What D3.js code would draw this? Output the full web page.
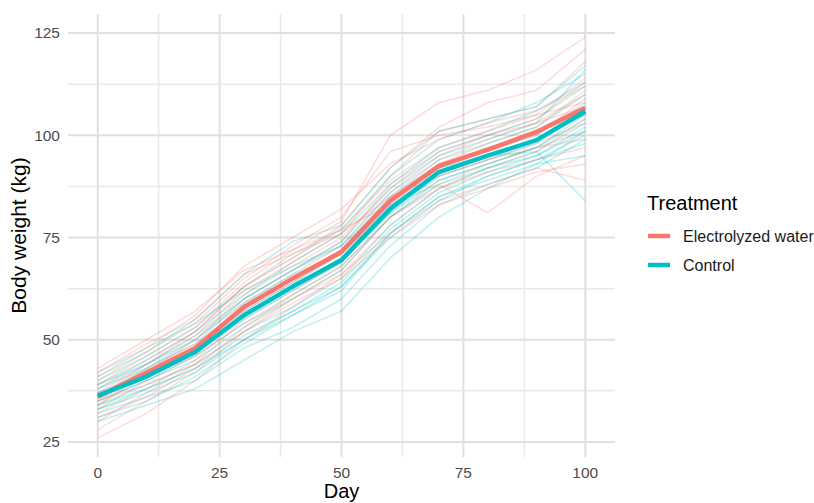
<!DOCTYPE html>
<html><head><meta charset="utf-8">
<script src="https://cdn.jsdelivr.net/npm/d3@7"></script>
<style>body{margin:0;background:#fff}svg{display:block;font-family:"Liberation Sans",Arial,sans-serif}</style>
</head><body><svg id="c" width="814" height="503"></svg>
<script>
const days = [0,10,20,30,40,50,60,70,80,90,100];
const groups = ["Electrolyzed water","Control"];
const colors = ["#F8766D","#00BFC4"];
const xTicks = [0,25,50,75,100];
const yTicks = [25,50,75,100,125];
const meanElectrolyzed = [36,42,48,58,65,71.5,84,92.5,96.5,100.8,106.7];
const meanControl = [36.3,41,47,56,63,69.5,82,91,95,98.8,105.8];
const animalsElectrolyzed = [
 [26,32,40,50,58,66,78,87,92,96,104],
 [28,35,42,52,60,67,80,88,93,97,101],
 [30,37,44,55,62,69,82,90,94,98,103],
 [32,38,45,56,63,70,83,91,95,99,105],
 [33,40,46,57,64,71,84,92,97,100,109],
 [34,41,47,58,65,72,85,93,98,102,111],
 [35,42,48,59,66,73,86,94,99,103,110],
 [36,43,49,60,67,74,88,96,100,104,113],
 [37,44,51,62,69,76,90,101,104,107,118],
 [38,45,52,63,70,78,92,102,108,111,121],
 [39,46,53,64,72,79,100,108,111,116,124],
 [40,47,54,65,73,80,96,100,102,105,108],
 [41,48,56,68,75,82,93,99,103,106,112],
 [42,49,55,66,71,76,85,90,94,97,99],
 [43,50,57,67,72,77,83,88,81,90,95],
 [37,41,46,54,60,66,76,84,88,92,89],
 [35,39,44,52,59,65,75,83,87,91,93],
 [31,36,43,53,61,68,80,87,91,94,97],
 [34,42,50,61,68,75,87,95,100,103,107],
 [36,44,52,63,70,77,89,97,101,105,114]
];
const animalsControl = [
 [30,34,38,45,52,57,70,80,87,93,101],
 [32,36,40,48,53,60,73,83,88,92,99],
 [33,38,43,50,56,63,76,85,90,94,100],
 [34,39,44,52,58,65,78,87,92,95,102],
 [35,40,45,53,60,67,80,89,93,97,104],
 [36,41,47,55,62,69,81,90,94,98,106],
 [37,42,48,57,64,71,83,92,96,100,108],
 [38,43,49,58,65,72,85,94,98,102,110],
 [39,44,51,60,67,74,87,96,100,104,112],
 [40,46,53,63,71,77,90,99,103,108,115],
 [41,47,55,66,74,78,92,101,104,107,117],
 [42,48,54,62,68,73,84,92,95,96,84],
 [36,43,50,59,66,71,82,91,95,99,107],
 [35,40,46,54,61,68,80,88,92,96,103],
 [33,37,42,50,57,64,77,86,91,95,101],
 [38,44,50,60,67,73,86,95,99,103,116],
 [34,38,43,51,57,63,75,84,90,94,98],
 [37,41,47,56,63,70,81,89,93,97,105],
 [39,45,52,61,69,76,88,97,101,106,113],
 [31,35,41,49,56,62,76,85,89,93,95]
];

const svg = d3.select("#c");
const x = d3.scaleLinear().domain([-6.1,106.1]).range([68,615]);
const y = d3.scaleLinear().domain([21.33,129.65]).range([457,14]);
const [px0,px1] = x.range(), [py1,py0] = y.range();

// grid
const g = svg.append("g");
const xMinor = xTicks.slice(0,-1).map((d,i)=>(d+xTicks[i+1])/2);
const yMinor = yTicks.slice(0,-1).map((d,i)=>(d+yTicks[i+1])/2);
g.selectAll(".xm").data(xMinor).join("line").attr("x1",d=>x(d)).attr("x2",d=>x(d)).attr("y1",py0).attr("y2",py1).attr("stroke","#e9e9e9").attr("stroke-width",1.5);
g.selectAll(".ym").data(yMinor).join("line").attr("y1",d=>y(d)).attr("y2",d=>y(d)).attr("x1",px0).attr("x2",px1).attr("stroke","#e9e9e9").attr("stroke-width",1.5);
g.selectAll(".xM").data(xTicks).join("line").attr("x1",d=>x(d)).attr("x2",d=>x(d)).attr("y1",py0).attr("y2",py1).attr("stroke","#e0e0e0").attr("stroke-width",2);
g.selectAll(".yM").data(yTicks).join("line").attr("y1",d=>y(d)).attr("y2",d=>y(d)).attr("x1",px0).attr("x2",px1).attr("stroke","#e0e0e0").attr("stroke-width",2);

const line = d3.line().x((d,i)=>x(days[i])).y(d=>y(d));
const lines = [];
for (let i=0;i<20;i++){ lines.push({g:1,v:animalsControl[i]}); lines.push({g:0,v:animalsElectrolyzed[i]}); }
svg.append("g").selectAll("path").data(lines).join("path")
  .attr("d",d=>line(d.v)).attr("fill","none").attr("stroke",d=>colors[d.g])
  .attr("stroke-opacity",0.25).attr("stroke-width",1.5);

const means = [meanElectrolyzed, meanControl];
svg.append("g").selectAll("path").data(means).join("path")
  .attr("d",d=>line(d)).attr("fill","none").attr("stroke",(d,i)=>colors[i])
  .attr("stroke-width",4.5).attr("stroke-linejoin","round");

// axes labels
svg.append("g").selectAll("text").data(yTicks).join("text")
  .attr("x",60).attr("y",d=>y(d)).attr("dy","0.35em").attr("text-anchor","end")
  .attr("font-size",15.5).attr("fill","#4d4d4d").text(d=>d);
svg.append("g").selectAll("text").data(xTicks).join("text")
  .attr("x",d=>x(d)).attr("y",473).attr("dy","0.35em").attr("text-anchor","middle")
  .attr("font-size",15.5).attr("fill","#4d4d4d").text(d=>d);
svg.append("text").attr("x",(px0+px1)/2).attr("y",498).attr("text-anchor","middle")
  .attr("font-size",20).attr("fill","#000").text("Day");
svg.append("text").attr("transform",`translate(19,${(py0+py1)/2}) rotate(-90)`).attr("dy","0.35em")
  .attr("text-anchor","middle").attr("font-size",21).attr("fill","#000").text("Body weight (kg)");

// legend
const lg = svg.append("g");
lg.append("text").attr("x",647).attr("y",203).attr("dy","0.35em").attr("font-size",20).attr("fill","#000").text("Treatment");
const items = lg.selectAll("g").data(groups).join("g").attr("transform",(d,i)=>`translate(0,${236+i*29})`);
items.append("line").attr("x1",648).attr("x2",670).attr("stroke",(d,i)=>colors[i]).attr("stroke-width",4.5);
items.append("text").attr("x",683).attr("dy","0.35em").attr("font-size",16).attr("fill","#1a1a1a").text(d=>d);
</script></body></html>
